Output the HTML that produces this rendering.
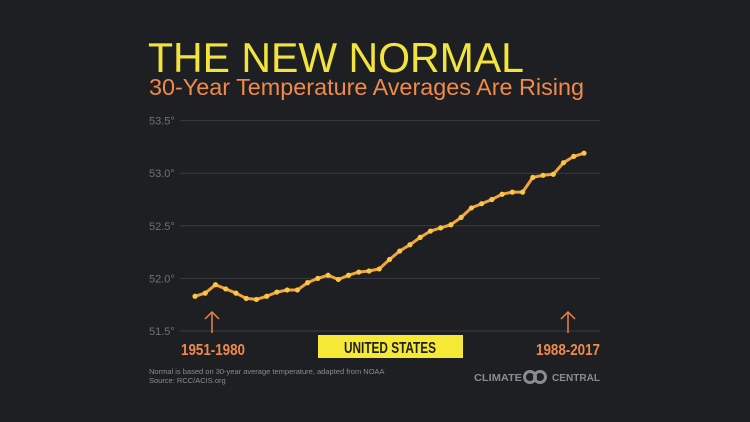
<!DOCTYPE html>
<html><head><meta charset="utf-8"><style>
html,body{margin:0;padding:0;background:#1e1f23;}
svg{display:block;font-family:"Liberation Sans",sans-serif;}
</style></head><body>
<svg id="chart" width="750" height="422" viewBox="0 0 750 422" xmlns="http://www.w3.org/2000/svg">
<rect x="0" y="0" width="750" height="422" fill="#1e1f23"/>
<text x="148" y="72" font-size="42" fill="#f2e43c" textLength="376" lengthAdjust="spacingAndGlyphs" style="font-weight:300">THE NEW NORMAL</text>
<text x="149" y="95" font-size="23" fill="#ef8a4a" textLength="435" lengthAdjust="spacingAndGlyphs">30-Year Temperature Averages Are Rising</text>
<g id="grid"></g>
<g id="yticks"></g>
<path id="line" fill="none" stroke="#f5a33a" stroke-width="3" stroke-linejoin="round"/>
<g id="points"></g>
<g>
<line x1="212" y1="333" x2="212" y2="312" stroke="#e8844a" stroke-width="1.5"/>
<polyline points="205,319 212,312 219,319" fill="none" stroke="#e8844a" stroke-width="1.5"/>
<text x="181" y="355" font-size="16" font-weight="bold" fill="#ef8a4a" textLength="64" lengthAdjust="spacingAndGlyphs">1951-1980</text>
</g>
<g>
<line x1="568" y1="333" x2="568" y2="312" stroke="#e8844a" stroke-width="1.5"/>
<polyline points="561,319 568,312 575,319" fill="none" stroke="#e8844a" stroke-width="1.5"/>
<text x="536" y="355" font-size="16" font-weight="bold" fill="#ef8a4a" textLength="64" lengthAdjust="spacingAndGlyphs">1988-2017</text>
</g>
<rect x="318" y="335" width="145" height="23" fill="#f5e935"/>
<text x="390" y="353" font-size="16" font-weight="bold" fill="#1e1f23" text-anchor="middle" textLength="92" lengthAdjust="spacingAndGlyphs">UNITED STATES</text>
<text x="149" y="374" font-size="7.5" fill="#8a8b90">Normal is based on 30-year average temperature, adapted from NOAA</text>
<text x="149" y="383" font-size="7.5" fill="#8a8b90">Source: RCC/ACIS.org</text>
<g>
<text x="474" y="381" font-size="10" font-weight="bold" fill="#8a8b90" textLength="48" lengthAdjust="spacingAndGlyphs">CLIMATE</text>
<circle cx="530" cy="377" r="5.5" fill="none" stroke="#8a8b90" stroke-width="3"/>
<circle cx="540" cy="377" r="5.5" fill="none" stroke="#8a8b90" stroke-width="3"/>
<text x="552" y="381" font-size="10" font-weight="bold" fill="#8a8b90" textLength="48" lengthAdjust="spacingAndGlyphs">CENTRAL</text>
</g>
</svg>
<script>
const periods = ["1951-1980","1952-1981","1953-1982","1954-1983","1955-1984","1956-1985","1957-1986","1958-1987","1959-1988","1960-1989","1961-1990","1962-1991","1963-1992","1964-1993","1965-1994","1966-1995","1967-1996","1968-1997","1969-1998","1970-1999","1971-2000","1972-2001","1973-2002","1974-2003","1975-2004","1976-2005","1977-2006","1978-2007","1979-2008","1980-2009","1981-2010","1982-2011","1983-2012","1984-2013","1985-2014","1986-2015","1987-2016","1988-2017","1989-2018"];
const temps = [51.83,51.86,51.94,51.90,51.86,51.81,51.80,51.83,51.87,51.89,51.89,51.96,52.00,52.03,51.99,52.03,52.06,52.07,52.09,52.18,52.26,52.32,52.39,52.45,52.48,52.51,52.58,52.67,52.71,52.75,52.80,52.82,52.82,52.96,52.98,52.99,53.10,53.16,53.19];
const yTicks = [51.5,52.0,52.5,53.0,53.5];
const yTickLabels = ["51.5°","52.0°","52.5°","53.0°","53.5°"];
const NS="http://www.w3.org/2000/svg";
function y(v){return 331-(v-51.5)/2.0*210.4;}
function x(i){return 195+i*(584-195)/(temps.length-1);}
const grid=document.getElementById('grid'), yt=document.getElementById('yticks');
yTicks.forEach((t,k)=>{
  const l=document.createElementNS(NS,'line');
  
  
  l.setAttribute('x1',180);l.setAttribute('x2',600);
  l.setAttribute('y1',y(t));l.setAttribute('y2',y(t));
  l.setAttribute('stroke','#3a3b40');l.setAttribute('stroke-width','1');
  grid.appendChild(l);
  const tx=document.createElementNS(NS,'text');
  
  
  tx.setAttribute('x',149);tx.setAttribute('y',y(t)+4);
  tx.setAttribute('font-size','11');tx.setAttribute('fill','#707176');
  tx.textContent=yTickLabels[k];
  yt.appendChild(tx);
});
let d='';
temps.forEach((v,i)=>{d+=(i?'L':'M')+x(i).toFixed(1)+','+y(v).toFixed(1);});
document.getElementById('line').setAttribute('d',d);
const pts=document.getElementById('points');
temps.forEach((v,i)=>{
  const c=document.createElementNS(NS,'circle');
  
  
  c.setAttribute('cx',x(i));c.setAttribute('cy',y(v));c.setAttribute('r',2.6);
  c.setAttribute('fill','#f7c845');
  pts.appendChild(c);
});
</script>
</body></html>
